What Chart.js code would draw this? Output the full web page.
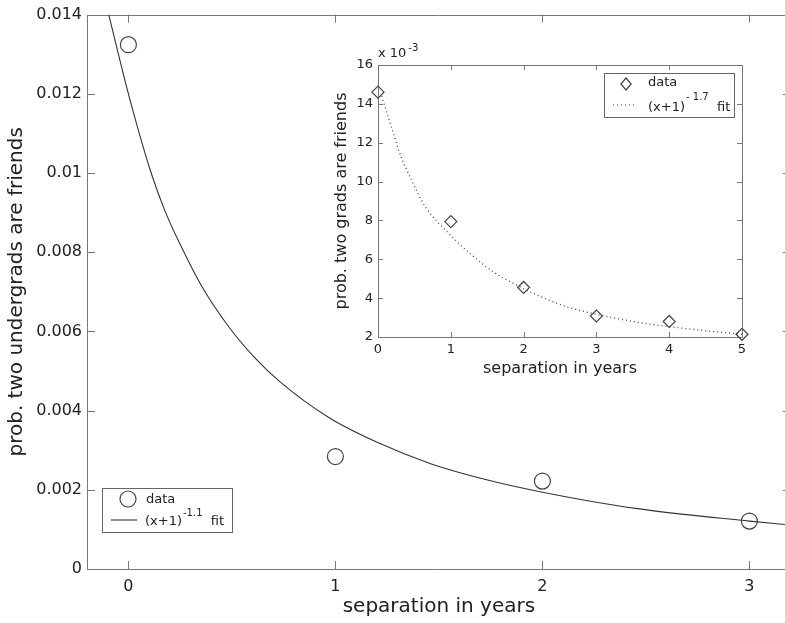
<!DOCTYPE html>
<html>
<head>
<meta charset="utf-8">
<script src="https://cdn.jsdelivr.net/npm/chart.js@4.4.0/dist/chart.umd.min.js"></script>
<style>
  html, body { margin: 0; padding: 0; background: #fff; overflow: hidden; }
  #wrap { position: relative; width: 800px; height: 623px; }
  #main { position: absolute; left: 0; top: 0; }
  #inset { position: absolute; left: 320px; top: 40px; }
</style>
</head>
<body>
<div id="wrap">
  <canvas id="main" width="800" height="623"></canvas>
  <canvas id="inset" width="440" height="350"></canvas>
</div>
<script>
// undergrads, main panel
const ugYears = [0, 1, 2, 3];
const ugProb = [0.01324, 0.00284, 0.00222, 0.00121];
// the (x+1)^-1.1 fit curve
const ugFitX = [-0.095, 0, 0.11, 0.18, 0.25, 0.35, 0.49, 0.61, 0.73, 0.97, 1.21, 1.46, 1.74, 2, 2.45, 3, 3.2];
const ugFitY = [0.014, 0.0120, 0.0100, 0.0090, 0.0082, 0.00718, 0.00608, 0.00534, 0.00474, 0.00382, 0.00318, 0.00266, 0.00224, 0.00194, 0.00153, 0.00121, 0.00111];
const ugXTicks = [0, 1, 2, 3];
const ugYTicks = [0, 0.002, 0.004, 0.006, 0.008, 0.01, 0.012, 0.014];
const ugYLabels = ['0', '0.002', '0.004', '0.006', '0.008', '0.01', '0.012', '0.014'];

// grads, inset (units of 10^-3)
const gradYears = [0, 1, 2, 3, 4, 5];
const gradProb = [14.6, 7.94, 4.55, 3.08, 2.8, 2.14];
// the (x+1)^-1.7 fit curve
const gradFitX = [0.05, 0.19, 0.30, 0.46, 0.65, 0.97, 1.26, 1.58, 1.9, 2.13, 2.59, 3.05, 3.6, 4.19, 5];
const gradFitY = [14.4, 12.74, 11.45, 10.08, 8.71, 7.34, 6.31, 5.36, 4.68, 4.25, 3.56, 3.13, 2.74, 2.45, 2.14];
const gradXTicks = [0, 1, 2, 3, 4, 5];
const gradYTicks = [2, 4, 6, 8, 10, 12, 14, 16];

Chart.defaults.font.family = 'DejaVu Sans';
Chart.defaults.color = '#222';

const pts = (xs, ys) => xs.map((x, i) => ({ x: x, y: ys[i] }));

// matlab style box with inward ticks on all four sides
const frame = {
  id: 'frame',
  beforeDatasetsDraw(chart, args, o) {
    const { ctx, chartArea: a, scales: { x, y } } = chart;
    ctx.save();
    ctx.strokeStyle = '#777';
    ctx.lineWidth = 1;
    ctx.beginPath();
    ctx.rect(Math.round(a.left) + 0.5, Math.round(a.top) + 0.5, Math.round(a.right - a.left), Math.round(a.bottom - a.top));
    x.ticks.forEach(t => {
      const px = Math.round(x.getPixelForValue(t.value)) + 0.5;
      ctx.moveTo(px, a.bottom); ctx.lineTo(px, a.bottom - o.len);
      ctx.moveTo(px, a.top); ctx.lineTo(px, a.top + o.len);
    });
    y.ticks.forEach(t => {
      const py = Math.round(y.getPixelForValue(t.value)) + 0.5;
      ctx.moveTo(a.left, py); ctx.lineTo(a.left + o.len, py);
      ctx.moveTo(a.right, py); ctx.lineTo(a.right - o.len, py);
    });
    ctx.stroke();
    ctx.restore();
  }
};

// legend with superscripts, which the built-in legend can't do
const legendBox = {
  id: 'legendBox',
  afterDraw(chart, args, o) {
    const ctx = chart.ctx;
    ctx.save();
    ctx.fillStyle = '#fff';
    ctx.strokeStyle = '#666';
    ctx.lineWidth = 1;
    ctx.fillRect(o.x, o.y, o.w, o.h);
    ctx.strokeRect(o.x + 0.5, o.y + 0.5, o.w, o.h);
    o.rows.forEach(r => {
      ctx.strokeStyle = '#444';
      ctx.lineWidth = 1.2;
      ctx.beginPath();
      if (r.mark === 'circle') {
        ctx.arc(r.mx, r.my, r.r, 0, Math.PI * 2);
      } else if (r.mark === 'diamond') {
        ctx.moveTo(r.mx, r.my - r.r); ctx.lineTo(r.mx + r.r * 0.85, r.my);
        ctx.lineTo(r.mx, r.my + r.r); ctx.lineTo(r.mx - r.r * 0.85, r.my); ctx.closePath();
      } else {
        ctx.setLineDash(r.mark === 'dots' ? [1, 3] : []);
        ctx.moveTo(r.mx, r.my); ctx.lineTo(r.mx + r.len, r.my);
      }
      ctx.stroke();
      ctx.setLineDash([]);
      ctx.fillStyle = '#222';
      ctx.textBaseline = 'middle';
      ctx.font = o.font;
      let tx = r.tx;
      ctx.fillText(r.text, tx, r.ty);
      tx += ctx.measureText(r.text).width;
      if (r.sup) {
        ctx.font = o.supFont;
        ctx.fillText(r.sup, tx + 1, r.ty + o.supDy);
        tx += ctx.measureText(r.sup).width + 1;
        ctx.font = o.font;
        ctx.fillText(r.tail, tx, r.ty);
      }
    });
    if (o.scaleNote) {
      const s = o.scaleNote;
      ctx.font = o.font;
      ctx.fillText(s.text, s.x, s.y);
      const w = ctx.measureText(s.text).width;
      ctx.font = o.supFont;
      ctx.fillText(s.sup, s.x + w + 2, s.y - 6);
    }
    ctx.restore();
  }
};

new Chart(document.getElementById('main'), {
  type: 'scatter',
  data: {
    datasets: [
      {
        label: 'data',
        data: pts(ugYears, ugProb),
        pointStyle: 'circle',
        pointRadius: 8,
        borderColor: '#444',
        borderWidth: 1.2,
        backgroundColor: 'rgba(0,0,0,0)'
      },
      {
        label: 'fit',
        data: pts(ugFitX, ugFitY),
        showLine: true,
        cubicInterpolationMode: 'monotone',
        pointRadius: 0,
        borderColor: '#333',
        borderWidth: 1.1
      }
    ]
  },
  options: {
    responsive: false,
    animation: false,
    layout: { padding: { top: 13, right: 8, left: 0, bottom: 0 } },
    scales: {
      x: {
        min: -0.2, max: 3.2,
        afterBuildTicks: s => { s.ticks = ugXTicks.map(v => ({ value: v })); },
        afterFit: s => { s.height = 54; },
        grid: { display: false, drawTicks: false },
        border: { display: false },
        ticks: { padding: 8, font: { size: 16 }, callback: v => String(v) },
        title: { display: true, text: 'separation in years', font: { size: 20 }, padding: { top: 0, bottom: 4 } }
      },
      y: {
        min: 0, max: 0.014,
        afterBuildTicks: s => { s.ticks = ugYTicks.map(v => ({ value: v })); },
        afterFit: s => { s.width = 87; },
        grid: { display: false, drawTicks: false },
        border: { display: false },
        ticks: { padding: 5, font: { size: 16 }, callback: (v, i) => ugYLabels[i] },
        title: { display: true, text: 'prob. two undergrads are friends', font: { size: 20 }, padding: { top: 5, bottom: 0 } }
      }
    },
    plugins: {
      legend: { display: false },
      tooltip: { enabled: false },
      frame: { len: 8 },
      legendBox: {
        x: 102, y: 488, w: 130, h: 44,
        font: '13px "DejaVu Sans"', supFont: '10px "DejaVu Sans"', supDy: -9,
        rows: [
          { mark: 'circle', mx: 128, my: 499, r: 8, text: 'data', tx: 146, ty: 500 },
          { mark: 'line', mx: 111, my: 520, len: 26, text: '(x+1)', sup: '-1.1', tail: '  fit', tx: 145, ty: 522 }
        ]
      }
    }
  },
  plugins: [frame, legendBox]
});

new Chart(document.getElementById('inset'), {
  type: 'scatter',
  data: {
    datasets: [
      {
        label: 'data',
        data: pts(gradYears, gradProb),
        pointStyle: 'rectRot',
        pointRadius: 6,
        borderColor: '#444',
        borderWidth: 1.2,
        backgroundColor: 'rgba(0,0,0,0)',
        clip: false
      },
      {
        label: 'fit',
        data: pts(gradFitX, gradFitY),
        showLine: true,
        cubicInterpolationMode: 'monotone',
        pointRadius: 0,
        borderColor: '#444',
        borderWidth: 1.3,
        borderDash: [1, 3]
      }
    ]
  },
  options: {
    responsive: false,
    animation: false,
    layout: { padding: { top: 25, right: 18, left: 0, bottom: 0 } },
    scales: {
      x: {
        min: 0, max: 5,
        afterBuildTicks: s => { s.ticks = gradXTicks.map(v => ({ value: v })); },
        afterFit: s => { s.height = 53; },
        grid: { display: false, drawTicks: false },
        border: { display: false },
        ticks: { padding: 5, font: { size: 13 }, callback: v => String(v) },
        title: { display: true, text: 'separation in years', font: { size: 16 }, padding: { top: 0, bottom: 12 } }
      },
      y: {
        min: 2, max: 16,
        afterBuildTicks: s => { s.ticks = gradYTicks.map(v => ({ value: v })); },
        afterFit: s => { s.width = 58; },
        grid: { display: false, drawTicks: false },
        border: { display: false },
        ticks: { padding: 5, font: { size: 13 }, callback: v => String(v) },
        title: { display: true, text: 'prob. two grads are friends', font: { size: 16 }, padding: { top: 12, bottom: 0 } }
      }
    },
    plugins: {
      legend: { display: false },
      tooltip: { enabled: false },
      frame: { len: 5 },
      legendBox: {
        x: 284, y: 33, w: 130, h: 44,
        font: '13px "DejaVu Sans"', supFont: '10px "DejaVu Sans"', supDy: -11,
        rows: [
          { mark: 'diamond', mx: 306, my: 44, r: 6, text: 'data', tx: 328, ty: 43 },
          { mark: 'dots', mx: 293, my: 65, len: 24, text: '(x+1)', sup: '- 1.7', tail: '  fit', tx: 328, ty: 68 }
        ],
        scaleNote: { text: 'x 10', sup: '-3', x: 58, y: 14 }
      }
    }
  },
  plugins: [frame, legendBox]
});
</script>
</body>
</html>
